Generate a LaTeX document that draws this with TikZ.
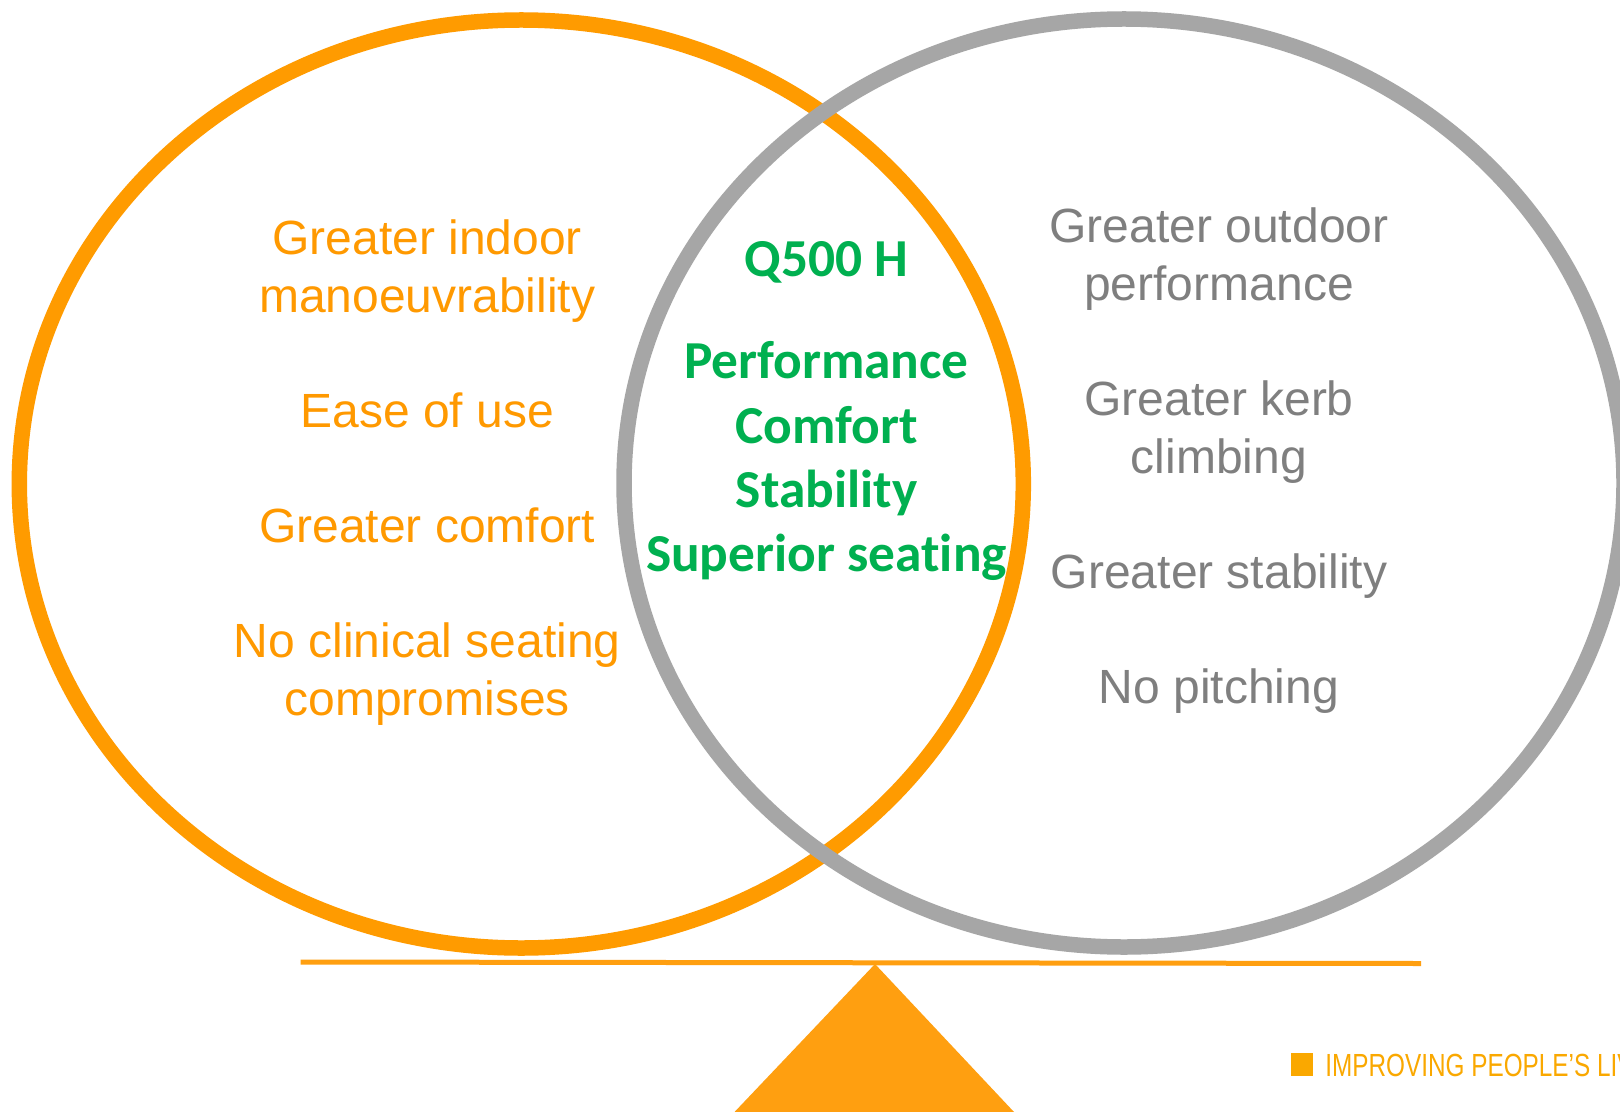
\documentclass[tikz,border=0pt]{standalone}
\usepackage{fontspec}
\setmainfont{Liberation Sans}
\newfontfamily\greenfont[Ligatures=NoCommon]{Carlito}
\definecolor{ringorange}{HTML}{FF9B00}
\definecolor{ringgray}{HTML}{A6A6A6}
\definecolor{beamorange}{HTML}{FF9F10}
\definecolor{textorange}{HTML}{FF9900}
\definecolor{textgray}{HTML}{7F7F7F}
\definecolor{textgreen}{HTML}{00B050}
\definecolor{logoorange}{HTML}{FAA800}
\tikzset{
  ring/.style={line width=7.75pt},
  lefttext/.style={anchor=base,align=center,text=textorange,font=\fontsize{24}{29}\selectfont,inner sep=0pt},
  righttext/.style={anchor=base,align=center,text=textgray,font=\fontsize{24}{29}\selectfont,inner sep=0pt},
  midtext/.style={anchor=base,text=textgreen,font=\greenfont\bfseries\fontsize{26.7}{32}\selectfont,inner sep=0pt},
}
\begin{document}
\begin{tikzpicture}[x=0.5pt,y=-0.5pt]
\clip (0,0) rectangle (1620,1112);
\useasboundingbox (0,0) rectangle (1620,1112);
\fill[white] (0,0) rectangle (1620,1112);
\draw[ring,ringorange] (521.3,484) ellipse [x radius=502,y radius=464];
\draw[ring,ringgray] (1124,483) ellipse [x radius=500,y radius=464];
\draw[beamorange,line width=2.5pt] (300.6,962) -- (1421,963.5);
\fill[beamorange] (875,964) -- (1014,1112) -- (734.5,1112) -- cycle;
\node[lefttext] (l1) at (427.2,312.5) {Greater indoor\\manoeuvrability};
\node[lefttext] (l2) at (427.2,427) {Ease of use};
\node[lefttext] (l3) at (427.2,542) {Greater comfort};
\node[lefttext] (l4) at (427.2,715) {No clinical seating\\compromises};
\node[righttext] (r1) at (1219,301) {Greater outdoor\\performance};
\node[righttext] (r2) at (1219,473) {Greater kerb\\climbing};
\node[righttext] (r3) at (1219,588) {Greater stability};
\node[righttext] (r4) at (1219,703) {No pitching};
\node[midtext] (m0) at (826.5,277) {Q500 H};
\node[midtext] (m1) at (826.5,379) {Performance};
\node[midtext] (m2) at (826.5,443) {Comfort};
\node[midtext] (m3) at (826.5,507) {Stability};
\node[midtext] (m4) at (826.5,571) {Superior seating};
\fill[logoorange] (1291,1053) rectangle (1313,1076);
\node[anchor=base west,inner sep=0pt,text=logoorange] (logo) at (1325,1076) {\scalebox{0.76}[1]{\fontsize{16}{16}\selectfont IMPROVING PEOPLE’S LIV}};
\end{tikzpicture}
\end{document}
